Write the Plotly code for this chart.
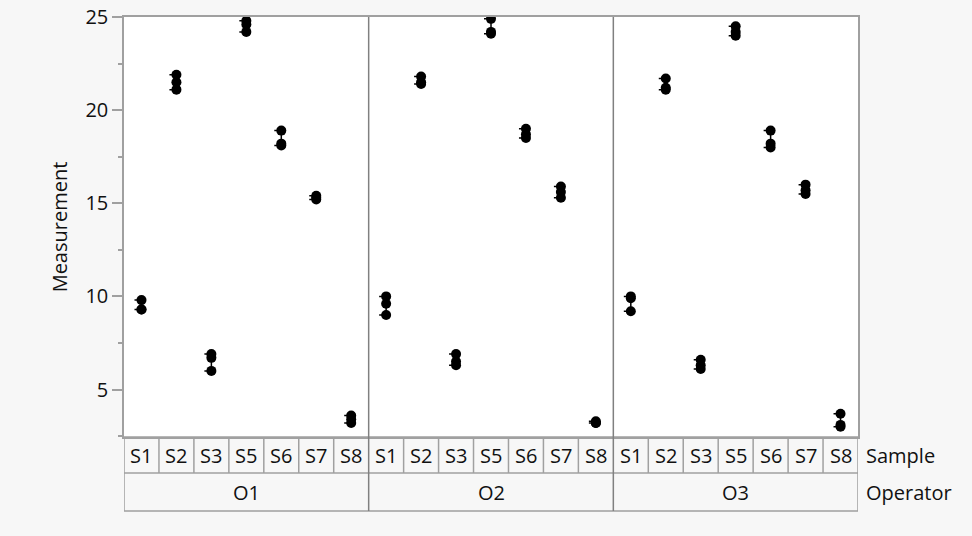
import plotly.graph_objects as go

samples = ["S1", "S2", "S3", "S5", "S6", "S7", "S8"]
operators = ["O1", "O2", "O3"]

# replicate measurements per sample, one list per operator
o1 = [[9.8, 9.3, 9.3], [21.9, 21.5, 21.1], [6.9, 6.7, 6.0], [24.8, 24.6, 24.2],
      [18.9, 18.2, 18.1], [15.4, 15.3, 15.2], [3.6, 3.4, 3.2]]
o2 = [[10.0, 9.6, 9.0], [21.8, 21.5, 21.4], [6.9, 6.5, 6.3], [24.9, 24.2, 24.1],
      [19.0, 18.7, 18.5], [15.9, 15.6, 15.3], [3.3, 3.2, 3.2]]
o3 = [[10.0, 9.9, 9.2], [21.7, 21.2, 21.1], [6.6, 6.3, 6.1], [24.5, 24.2, 24.0],
      [18.9, 18.2, 18.0], [16.0, 15.7, 15.5], [3.7, 3.1, 3.0]]
data = [o1, o2, o3]

y_ticks = [5, 10, 15, 20, 25]

FONT = "Segoe UI, Open Sans, Noto Sans, sans-serif"
FS = 20
TXT = "#111111"
GRID = "#a0a0a0"
DARK = "#808080"
W, H = 972, 536
L, R, T, B = 124, 114, 17, 99
plot_h = H - T - B
plot_bottom_px = H - B


def py(px):
    return (plot_bottom_px - px) / plot_h


fig = go.Figure()

xs, ys, lx, ly = [], [], [], []
n = len(samples)
for oi, op in enumerate(data):
    for si, vals in enumerate(op):
        xi = oi * n + si
        for v in vals:
            xs.append(xi)
            ys.append(v)
        lo, hi = min(vals), max(vals)
        lx += [xi - 0.2, xi, xi, xi - 0.2, None]
        ly += [hi, hi, lo, lo, None]

fig.add_trace(go.Scatter(x=lx, y=ly, mode="lines",
                         line=dict(color="black", width=1.5),
                         hoverinfo="skip", showlegend=False))
fig.add_trace(go.Scatter(x=xs, y=ys, mode="markers",
                         marker=dict(color="black", size=10),
                         showlegend=False))

total = n * len(operators)
shapes = []
y_s_top, y_s_bot, y_o_bot = py(437), py(473), py(511)
shapes.append(dict(type="rect", xref="x", yref="paper", x0=-0.5, x1=total - 0.5,
                   y0=y_o_bot, y1=y_s_top, line=dict(color=GRID, width=1.5),
                   fillcolor="#f7f7f7", layer="below"))
shapes.append(dict(type="line", xref="x", yref="paper", x0=-0.5, x1=total - 0.5,
                   y0=y_s_bot, y1=y_s_bot, line=dict(color=GRID, width=1.5)))
for i in range(1, total):
    if i % n != 0:
        shapes.append(dict(type="line", xref="x", yref="paper",
                           x0=i - 0.5, x1=i - 0.5, y0=y_s_bot, y1=y_s_top,
                           line=dict(color=GRID, width=1.5)))
# panel dividers inside plot and through table
for k in range(1, len(operators)):
    shapes.append(dict(type="line", xref="x", yref="paper",
                       x0=k * n - 0.5, x1=k * n - 0.5, y0=1, y1=y_o_bot,
                       line=dict(color=DARK, width=1.5)))

annotations = []
for oi, opn in enumerate(operators):
    for si, s in enumerate(samples):
        annotations.append(dict(x=oi * n + si, y=(y_s_top + y_s_bot) / 2,
                                xref="x", yref="paper", text=s, showarrow=False,
                                yanchor="middle", xanchor="center",
                                font=dict(size=FS, color=TXT, family=FONT)))
    annotations.append(dict(x=oi * n + (n - 1) / 2, y=(y_s_bot + y_o_bot) / 2,
                            xref="x", yref="paper", text=opn, showarrow=False,
                            yanchor="middle", xanchor="center",
                            font=dict(size=FS, color=TXT, family=FONT)))
for lab, yy in [("Sample", (y_s_top + y_s_bot) / 2), ("Operator", (y_s_bot + y_o_bot) / 2)]:
    annotations.append(dict(x=(864 - L) / (W - L - R), y=yy,
                            xref="paper", yref="paper", text=lab, showarrow=False,
                            xanchor="left", yanchor="middle",
                            font=dict(size=FS, color=TXT, family=FONT)))

fig.update_layout(
    width=W, height=H,
    margin=dict(l=L, r=R, t=T, b=B, autoexpand=False),
    paper_bgcolor="#f7f7f7", plot_bgcolor="white",
    font=dict(family=FONT, size=FS, color=TXT),
    shapes=shapes, annotations=annotations,
    xaxis=dict(range=[-0.5, total - 0.5], showticklabels=False, showgrid=False,
               zeroline=False, showline=True, linecolor=GRID, linewidth=1.5,
               mirror=True, ticks="", automargin=False),
    yaxis=dict(range=[2.45, 25], tickvals=y_ticks, ticks="outside", ticklen=10,
               tickcolor=GRID, tickwidth=1.5, showgrid=False, zeroline=False,
               showline=True, linecolor=GRID, linewidth=1.5, mirror=True,
               automargin=False,
               minor=dict(tickmode="linear", tick0=0, dtick=2.5, ticks="outside",
                          ticklen=4, tickcolor=GRID, tickwidth=1.5, showgrid=False),
               title=dict(text="Measurement", standoff=12,
                          font=dict(size=FS, family=FONT, color=TXT)),
               tickfont=dict(size=FS, family=FONT, color=TXT)),
)

fig.write_html("out.html")
